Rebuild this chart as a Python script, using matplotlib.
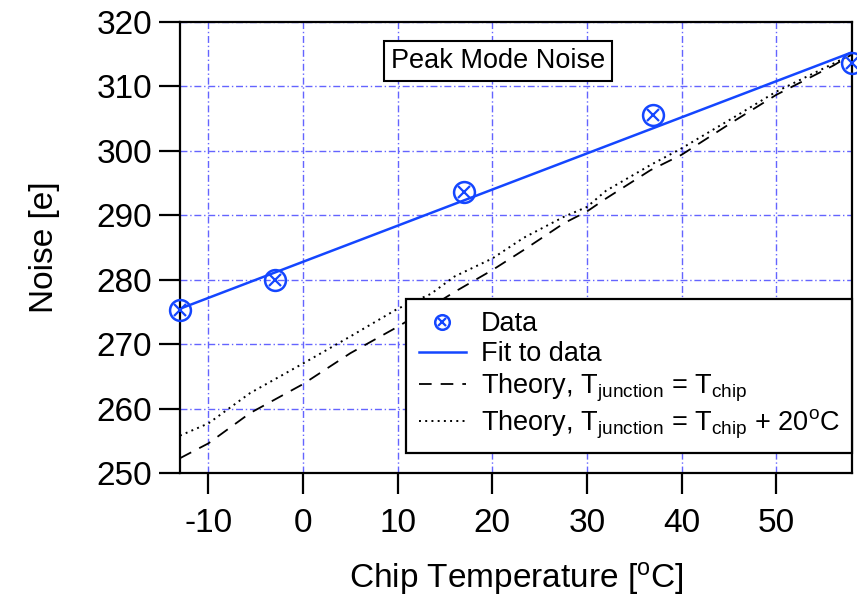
import matplotlib
matplotlib.use("Agg")
import matplotlib.pyplot as plt
from matplotlib.legend_handler import HandlerTuple

plt.rcParams['font.family'] = ['Liberation Sans', 'DejaVu Sans']
plt.rcParams['mathtext.fontset'] = 'custom'
plt.rcParams['mathtext.rm'] = 'Liberation Sans'
plt.rcParams['mathtext.it'] = 'Liberation Sans:italic'

# ---- data ----
temp = [-13, -3, 17, 37, 58]
noise = [275.3, 280.0, 293.6, 305.5, 313.7]

fit_x = [-13, 58]
fit_y = [275.5, 315.3]

theory_x = [-13, -10, -5.6, 0, 5, 10, 13.5, 16, 20, 23.3, 27.6, 30, 32,
            36.7, 40, 45.4, 50, 56.1, 58]
theory_same = [252.3, 254.6, 259.3, 263.8, 268.6, 272.7, 275.8, 278.1, 281.5,
               284.6, 288.8, 290.6, 292.6, 297.0, 299.4, 304.5, 308.7, 313.3, 315.0]
theory_plus20 = [255.8, 257.7, 262.4, 267.0, 271.2, 275.5, 277.8, 280.5, 283.3,
                 286.5, 289.8, 291.3, 293.8, 297.8, 300.4, 305.1, 309.2, 313.6, 315.0]

xticks = [-10, 0, 10, 20, 30, 40, 50]
yticks = [250, 260, 270, 280, 290, 300, 310, 320]

blue = '#1446ff'
grid_blue = '#6464ff'

fig = plt.figure(figsize=(8.57, 5.95), dpi=100)
ax = fig.add_axes([0.210, 0.205, 0.7842, 0.758])

ax.set_xlim(-13, 58)
ax.set_ylim(250, 320)
ax.set_xticks(xticks)
ax.set_yticks(yticks)
ax.set_xticklabels([str(v) for v in xticks])
ax.set_yticklabels([str(v) for v in yticks])

ax.grid(True, color=grid_blue, linestyle=(0, (5, 2, 1, 2)), linewidth=1.0)
ax.set_axisbelow(True)

l_same, = ax.plot(theory_x, theory_same, color='black', linestyle=(0, (7, 5)), lw=1.3)
l_plus, = ax.plot(theory_x, theory_plus20, color='black', linestyle=(0, (1, 2.2)), lw=1.4)
l_fit, = ax.plot(fit_x, fit_y, color=blue, lw=1.8)
m_circ, = ax.plot(temp, noise, linestyle='none', marker='o', markersize=15,
                  markerfacecolor='none', markeredgecolor=blue, markeredgewidth=1.8,
                  clip_on=False, zorder=5)
m_x, = ax.plot(temp, noise, linestyle='none', marker='x', markersize=8,
               markeredgecolor=blue, markeredgewidth=1.6, clip_on=False, zorder=5)

for s in ax.spines.values():
    s.set_linewidth(1.6)
ax.tick_params(axis='both', direction='out', length=15, width=1.6, labelsize=24)
ax.tick_params(axis='x', pad=10)
ax.tick_params(axis='y', pad=5)

ax.set_xlabel(r'Chip Temperature [$^{\mathrm{o}}$C]', fontsize=24, labelpad=15)
ax.set_ylabel('Noise [e]', fontsize=24, labelpad=26)

ax.text(0.473, 0.913, 'Peak Mode Noise', transform=ax.transAxes, fontsize=19.5,
        ha='center', va='center',
        bbox=dict(boxstyle='square,pad=0.25', facecolor='white', edgecolor='black', linewidth=1.5))

leg = ax.legend([(m_circ, m_x), l_fit, l_same, l_plus],
                ['Data', 'Fit to data',
                 r'Theory, T$_{\mathrm{junction}}$ = T$_{\mathrm{chip}}$',
                 r'Theory, T$_{\mathrm{junction}}$ = T$_{\mathrm{chip}}$ + 20$^{\mathrm{o}}$C'],
                handler_map={tuple: HandlerTuple(ndivide=1, pad=0)},
                loc='lower right', bbox_to_anchor=(1.0, 0.044), borderaxespad=0,
                fontsize=19.5, frameon=True, fancybox=False, framealpha=1,
                edgecolor='black', markerscale=0.7, handlelength=1.75,
                handletextpad=0.55, labelspacing=0.15, borderpad=0.45)
leg.get_frame().set_linewidth(1.6)
leg.set_zorder(10)

fig.savefig('out.png', dpi=100)
